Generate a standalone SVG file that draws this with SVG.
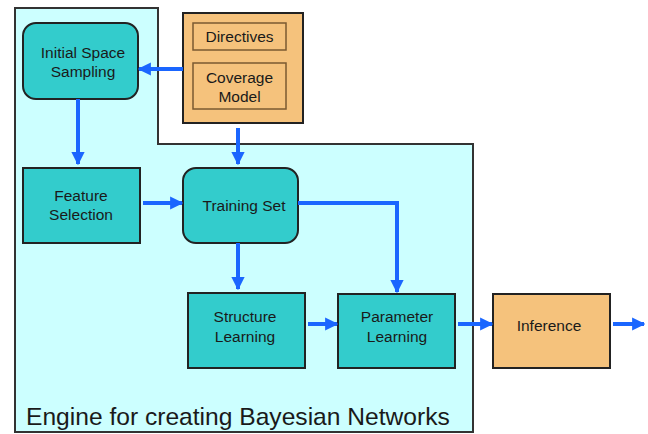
<svg xmlns="http://www.w3.org/2000/svg" width="648" height="434" viewBox="0 0 648 434">
  <style>
    .engine { fill: #ccffff; stroke: #333; stroke-width: 2; }
    .teal { fill: #33cccc; stroke: #222; stroke-width: 2; }
    .orange { fill: #f5c27c; stroke: #222; stroke-width: 2; }
    .inner { fill: #f5c27c; stroke: #7a5a30; stroke-width: 1.5; }
    .label { font-family: "Liberation Sans", Arial, sans-serif; font-size: 15.5px; fill: #1a1a1a; text-anchor: middle; }
    .title { font-family: "Liberation Sans", Arial, sans-serif; font-size: 24.6px; fill: #1a1a1a; }
    .conn { fill: none; stroke: #1a66ff; stroke-width: 4; marker-end: url(#head); }
  </style>
  <defs>
    <marker id="head" viewBox="0 0 10 10" refX="9" refY="5" markerWidth="3.3" markerHeight="3.3" orient="auto" markerUnits="strokeWidth">
      <path d="M0,0 L10,5 L0,10 Z" fill="#1a66ff"/>
    </marker>
  </defs>

  <rect width="648" height="434" fill="#ffffff"/>

  <!-- Engine container with notch for the external inputs -->
  <g id="engine">
    <path class="engine" d="M15,8 H158 V144 H473 V432 H15 Z"/>
    <text class="title" x="26" y="425">Engine for creating Bayesian Networks</text>
  </g>

  <g id="inputs">
    <rect class="orange" x="183" y="13" width="120" height="110"/>
    <rect class="inner" x="193" y="23" width="93" height="27"/>
    <text class="label" x="239.5" y="42">Directives</text>
    <rect class="inner" x="193" y="63" width="93" height="46"/>
    <text class="label" x="239.5" y="83">Coverage</text>
    <text class="label" x="239.5" y="102">Model</text>
  </g>

  <g id="initial-space-sampling">
    <rect class="teal" x="23" y="23" width="115" height="76" rx="13"/>
    <text class="label" x="83" y="58">Initial Space</text>
    <text class="label" x="83" y="77">Sampling</text>
  </g>

  <g id="feature-selection">
    <rect class="teal" x="23" y="168" width="117" height="75"/>
    <text class="label" x="81" y="201">Feature</text>
    <text class="label" x="81" y="220">Selection</text>
  </g>

  <g id="training-set">
    <rect class="teal" x="183" y="168" width="115" height="75" rx="13"/>
    <text class="label" x="244" y="211">Training Set</text>
  </g>

  <g id="structure-learning">
    <rect class="teal" x="188" y="293" width="117" height="75"/>
    <text class="label" x="245" y="322">Structure</text>
    <text class="label" x="245" y="342">Learning</text>
  </g>

  <g id="parameter-learning">
    <rect class="teal" x="338" y="294" width="117" height="74"/>
    <text class="label" x="397" y="322">Parameter</text>
    <text class="label" x="397" y="342">Learning</text>
  </g>

  <g id="inference">
    <rect class="orange" x="493" y="294" width="117" height="74"/>
    <text class="label" x="549" y="331">Inference</text>
  </g>

  <g id="connectors">
    <path class="conn" d="M183,69 H139"/>
    <path class="conn" d="M78,99 V164"/>
    <path class="conn" d="M238,128 V164"/>
    <path class="conn" d="M143,203 H182"/>
    <path class="conn" d="M238,243 V289"/>
    <path class="conn" d="M298,203 H397 V292"/>
    <path class="conn" d="M308,324 H337"/>
    <path class="conn" d="M458,324 H492"/>
    <path class="conn" d="M613,324 H644"/>
  </g>
</svg>
